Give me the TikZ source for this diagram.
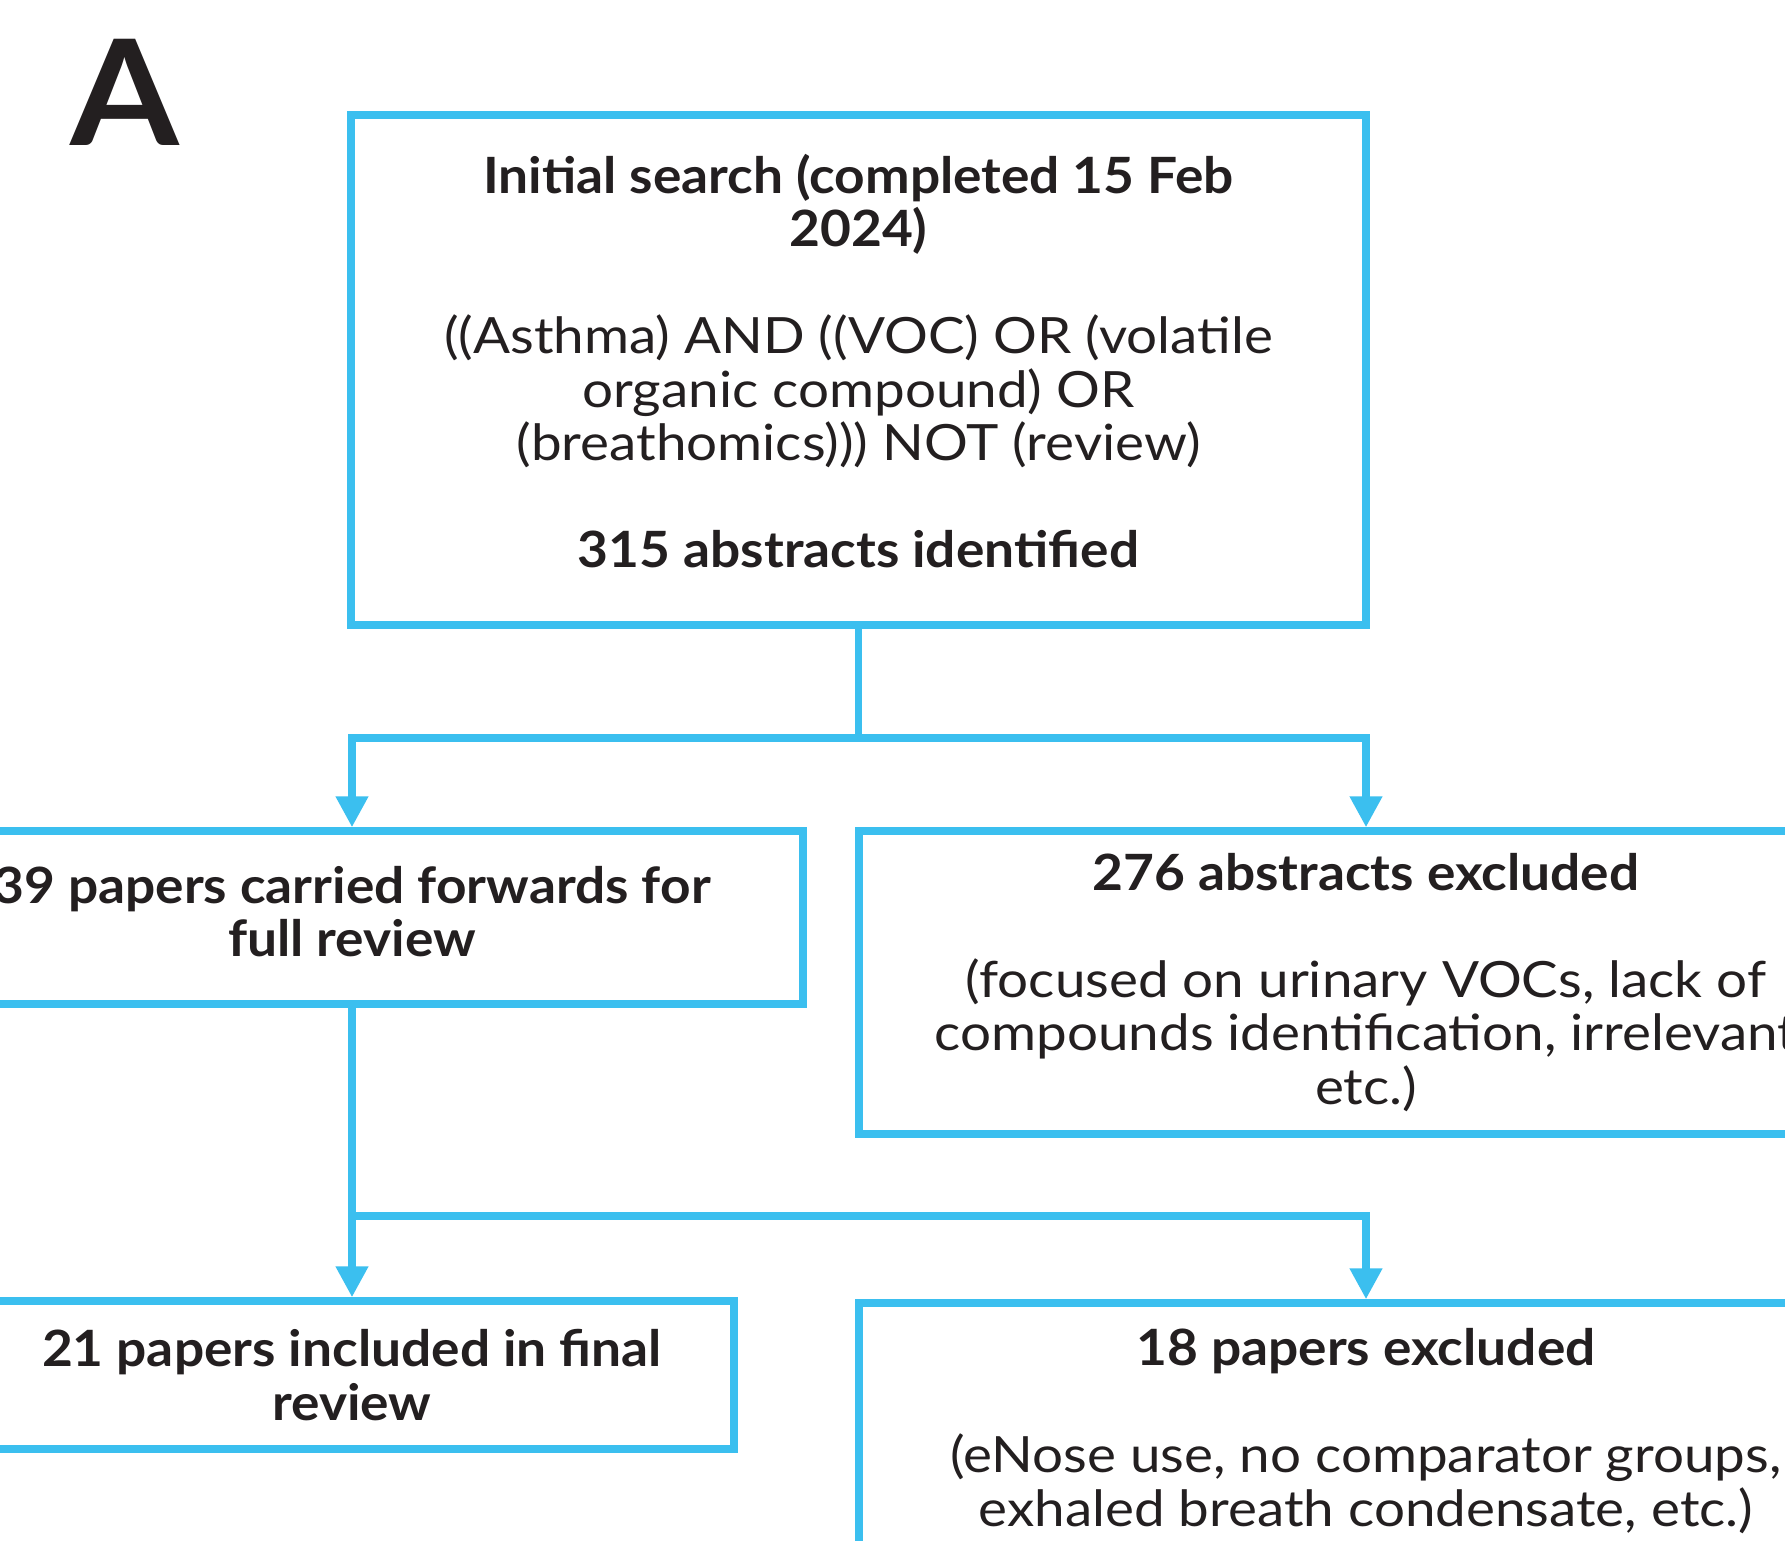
\documentclass[tikz,border=0pt]{standalone}
\usepackage{fontspec}
\setmainfont{Lato}[FakeStretch=1.095,BoldFeatures={FakeStretch=1.065}]
\usetikzlibrary{arrows.meta}
\definecolor{fblue}{RGB}{59,191,239}
\definecolor{ftext}{RGB}{35,31,32}
\begin{document}
\begin{tikzpicture}[x=1pt,y=-1pt,
  box/.style={draw=fblue,line width=7.5pt,rectangle,inner sep=0pt,align=center,text=ftext,
    font=\fontsize{50}{53.5}\selectfont},
  conn/.style={draw=fblue,line width=7.5pt,line join=miter},
  arr/.style={conn,-{Triangle[width=31pt,length=31pt]}},
]
\useasboundingbox (0,0) rectangle (1785,1540);
\clip (0,0) rectangle (1785,1540);
\fill[white] (0,0) rectangle (1785,1540);

\node[anchor=base west,inner sep=0pt,text=ftext,font=\fontsize{147}{147}\selectfont\bfseries] (lbl) at (70,145) {A};

\node[box,minimum width=1015pt,minimum height=510pt,text depth=18pt] (top) at (858.5,370)
 {\textbf{Initial search (completed 15 Feb}\\\textbf{2024)}\\[53.5pt]
  ((Asthma) AND ((VOC) OR (volatile\\organic compound) OR\\(breathomics))) NOT (review)\\[53.5pt]
  \textbf{315 abstracts identified}};

\node[box,minimum width=902pt,minimum height=173pt,text depth=12pt] (b2) at (352,917.5)
 {\textbf{39 papers carried forwards for}\\\textbf{full review}};

\node[box,minimum width=1014pt,minimum height=303pt] (b3) at (1366,982.5)
 {\textbf{276 abstracts excluded}\\[53.5pt]
  (focused on urinary VOCs, lack of\\compounds identification, irrelevant\\etc.)};

\node[box,minimum width=764pt,minimum height=148pt] (b4) at (352,1375)
 {\textbf{21 papers included in final}\\\textbf{review}};

\node[box,minimum width=1014pt,minimum height=256pt] (b5) at (1366,1431)
 {\textbf{18 papers excluded}\\[53.5pt]
  (eNose use, no comparator groups,\\exhaled breath condensate, etc.)};

\coordinate (j1) at ([yshift=-109pt]top.south);
\draw[conn] (top.south) -- (j1);
\draw[arr] (j1) -| (b2.north);
\draw[arr] (j1) -| (b3.north);

\coordinate (j2) at (b2.south |- 0,1216);
\draw[arr] (b2.south) -- (b4.north);
\draw[arr] (j2) -| (b5.north);
\end{tikzpicture}
\end{document}
